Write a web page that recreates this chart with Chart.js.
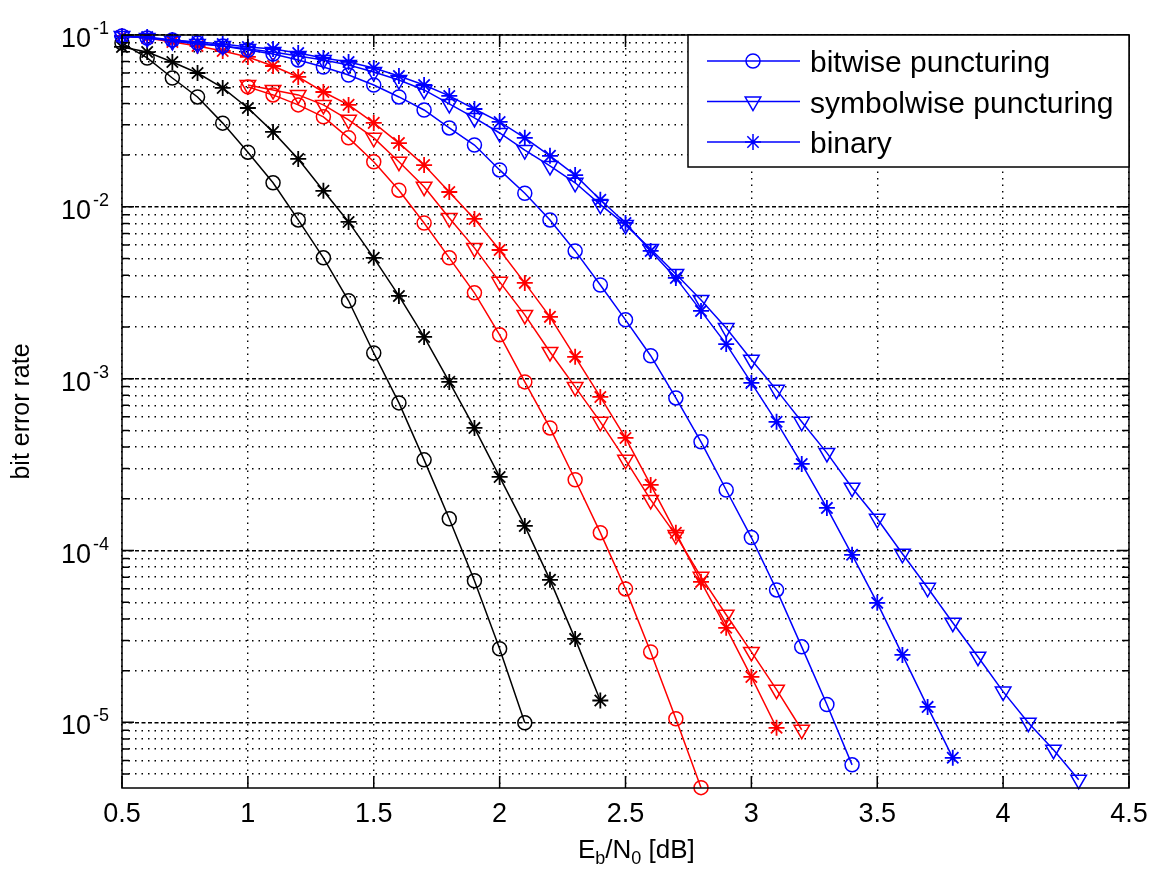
<!DOCTYPE html>
<html>
<head>
<meta charset="utf-8">
<script src="https://cdn.jsdelivr.net/npm/chart.js@4.4.1/dist/chart.umd.min.js"></script>
<style>
  html, body { margin: 0; padding: 0; background: #fff; }
  canvas { display: block; }
</style>
</head>
<body>
<canvas id="berChart" width="1155" height="873"></canvas>
<script>
// Eb/N0 grid in dB (every series starts somewhere on it)
const snrDb = [0.5, 0.6, 0.7, 0.8, 0.9, 1.0, 1.1, 1.2, 1.3, 1.4, 1.5, 1.6, 1.7, 1.8, 1.9,
  2.0, 2.1, 2.2, 2.3, 2.4, 2.5, 2.6, 2.7, 2.8, 2.9, 3.0, 3.1, 3.2, 3.3, 3.4, 3.5, 3.6,
  3.7, 3.8, 3.9, 4.0, 4.1, 4.2, 4.3];

// black curves, start at 0.5 dB
const blackCircle = [0.0898, 0.0735, 0.0562, 0.0436, 0.0307, 0.0208, 0.0138, 0.00839, 0.00505,
  0.00284, 0.00141, 7.23e-4, 3.37e-4, 1.53e-4, 6.67e-5, 2.68e-5, 9.95e-6];
const blackStar = [0.0852, 0.0796, 0.0697, 0.0601, 0.0492, 0.0376, 0.0273, 0.0190, 0.0124,
  0.00817, 0.00505, 0.00303, 0.00175, 9.58e-4, 5.17e-4, 2.68e-4, 1.39e-4, 6.75e-5, 3.06e-5, 1.34e-5];

// red curves (circle and triangle start at 1.0 dB, star at 0.5 dB)
const redCircle = [0.0499, 0.0448, 0.0392, 0.0334, 0.0252, 0.0183, 0.0125, 0.00805, 0.00505,
  0.00316, 0.00180, 9.58e-4, 5.17e-4, 2.58e-4, 1.27e-4, 5.98e-5, 2.57e-5, 1.05e-5, 4.17e-6];
const redTriangle = [0.0512, 0.0479, 0.0448, 0.0392, 0.0321, 0.0252, 0.0183, 0.0131, 0.00861,
  0.00577, 0.00366, 0.00235, 0.00143, 8.96e-4, 5.61e-4, 3.37e-4, 1.97e-4, 1.23e-4, 7.03e-5,
  4.23e-5, 2.57e-5, 1.55e-5, 9.06e-6];
const redStar = [0.0987, 0.0961, 0.0911, 0.0863, 0.0807, 0.0745, 0.0660, 0.0570, 0.0466, 0.0392,
  0.0308, 0.0235, 0.0175, 0.0122, 0.00851, 0.00561, 0.00361, 0.00229, 0.00134, 7.83e-4, 4.52e-4,
  2.41e-4, 1.27e-4, 6.57e-5, 3.55e-5, 1.84e-5, 9.30e-6];

// blue curves, start at 0.5 dB
const blueCircle = [0.0987, 0.0961, 0.0935, 0.0898, 0.0863, 0.0818, 0.0775, 0.0716, 0.0651, 0.0585,
  0.0512, 0.0436, 0.0366, 0.0288, 0.0229, 0.0164, 0.0120, 0.00839, 0.00554, 0.00351, 0.00220,
  0.00136, 7.73e-4, 4.29e-4, 2.25e-4, 1.19e-4, 5.90e-5, 2.75e-5, 1.27e-5, 5.66e-6];
const blueTriangle = [0.0987, 0.0961, 0.0923, 0.0886, 0.0863, 0.0829, 0.0796, 0.0754, 0.0716, 0.0669,
  0.0609, 0.0547, 0.0479, 0.0397, 0.0329, 0.0269, 0.0214, 0.0173, 0.0138, 0.0103, 0.00785, 0.00569,
  0.00407, 0.00287, 0.00197, 0.00129, 8.61e-4, 5.61e-4, 3.70e-4, 2.32e-4, 1.53e-4, 9.57e-5, 6.07e-5,
  3.80e-5, 2.41e-5, 1.51e-5, 9.95e-6, 6.93e-6, 4.64e-6];
const blueStar = [0.0980, 0.0974, 0.0935, 0.0911, 0.0886, 0.0852, 0.0829, 0.0786, 0.0735, 0.0697,
  0.0643, 0.0577, 0.0512, 0.0442, 0.0371, 0.0312, 0.0252, 0.0198, 0.0153, 0.0110, 0.00806, 0.00554,
  0.00386, 0.00248, 0.00159, 9.45e-4, 5.61e-4, 3.19e-4, 1.77e-4, 9.44e-5, 4.96e-5, 2.47e-5, 1.23e-5,
  6.22e-6];

const xTicks = [0.5, 1, 1.5, 2, 2.5, 3, 3.5, 4, 4.5];
const xTickLabels = ['0.5', '1', '1.5', '2', '2.5', '3', '3.5', '4', '4.5'];
const yDecades = [1e-1, 1e-2, 1e-3, 1e-4, 1e-5];
const yDecadeExponents = ['-1', '-2', '-3', '-4', '-5'];
const legendLabels = ['bitwise puncturing', 'symbolwise puncturing', 'binary'];

const yMin = 4.15e-6;
const yMax = 0.1;

const yMinorTicks = [];
yDecades.forEach(d => {
  for (let k = 2; k <= 9; k++) {
    const v = d * k / 10;
    if (v >= yMin) yMinorTicks.push(v);
  }
});

const isDecade = v => Math.abs(Math.log10(v) - Math.round(Math.log10(v))) < 1e-6;

const toPoints = function(values, firstX) {
  const start = snrDb.indexOf(firstX);
  return values.map((v, i) => ({ x: snrDb[start + i], y: v }));
};

const markerRadius = { circle: 7, triangle: 9, star: 8 };

const makeSet = function(label, values, firstX, color, style) {
  return {
    label: label,
    data: toPoints(values, firstX),
    showLine: true,
    borderColor: color,
    borderWidth: 1.5,
    pointStyle: style,
    pointRadius: markerRadius[style],
    pointRotation: style === 'triangle' ? 180 : 0,
    pointBorderColor: color,
    pointBackgroundColor: 'rgba(0,0,0,0)',
    pointBorderWidth: style === 'star' ? 1.8 : 1.5,
    tension: 0,
    clip: false
  };
};

const font = '"Liberation Sans", Arial, sans-serif';

const drawMarker = function(ctx, style, x, y) {
  const r = markerRadius[style];
  ctx.beginPath();
  if (style === 'circle') {
    ctx.arc(x, y, r, 0, Math.PI * 2);
  } else if (style === 'triangle') {
    ctx.moveTo(x, y + r);
    ctx.lineTo(x - r * Math.sin(Math.PI / 3), y - r / 2);
    ctx.lineTo(x + r * Math.sin(Math.PI / 3), y - r / 2);
    ctx.closePath();
  } else {
    for (let k = 0; k < 4; k++) {
      const ang = k * Math.PI / 4;
      ctx.moveTo(x - r * Math.cos(ang), y - r * Math.sin(ang));
      ctx.lineTo(x + r * Math.cos(ang), y + r * Math.sin(ang));
    }
  }
  ctx.stroke();
};

const matlabFrame = {
  id: 'matlabFrame',
  afterDatasetsDraw(chart) {
    const { ctx, chartArea: a, scales: { x, y } } = chart;
    ctx.save();
    ctx.strokeStyle = '#000';
    ctx.lineWidth = 1.5;
    ctx.setLineDash([]);

    // inward ticks on all four sides
    ctx.beginPath();
    xTicks.forEach(v => {
      const px = x.getPixelForValue(v);
      ctx.moveTo(px, a.bottom); ctx.lineTo(px, a.bottom - 12);
      ctx.moveTo(px, a.top); ctx.lineTo(px, a.top + 12);
    });
    yDecades.forEach(v => {
      const py = y.getPixelForValue(v);
      ctx.moveTo(a.left, py); ctx.lineTo(a.left + 12, py);
      ctx.moveTo(a.right, py); ctx.lineTo(a.right - 12, py);
    });
    yMinorTicks.forEach(v => {
      const py = y.getPixelForValue(v);
      ctx.moveTo(a.left, py); ctx.lineTo(a.left + 7, py);
      ctx.moveTo(a.right, py); ctx.lineTo(a.right - 7, py);
    });
    ctx.stroke();
    ctx.strokeRect(a.left, a.top, a.right - a.left, a.bottom - a.top);

    // tick labels
    ctx.fillStyle = '#000';
    ctx.font = '27px ' + font;
    ctx.textAlign = 'center';
    ctx.textBaseline = 'alphabetic';
    xTicks.forEach((v, i) => ctx.fillText(xTickLabels[i], x.getPixelForValue(v), a.bottom + 34));
    yDecades.forEach((v, i) => {
      const py = y.getPixelForValue(v);
      ctx.font = '27px ' + font;
      ctx.textAlign = 'right';
      ctx.fillText('10', 91, py + 12);
      ctx.font = '18px ' + font;
      ctx.textAlign = 'left';
      ctx.fillText(yDecadeExponents[i], 93, py - 1);
    });

    // axis titles
    ctx.save();
    ctx.translate(22, (a.top + a.bottom) / 2);
    ctx.rotate(-Math.PI / 2);
    ctx.font = '25px ' + font;
    ctx.textAlign = 'center';
    ctx.textBaseline = 'middle';
    ctx.fillText('bit error rate', 0, 0);
    ctx.restore();

    const parts = [['E', 26, 0], ['b', 18, 6], ['/N', 26, 0], ['0', 18, 6], [' [dB]', 26, 0]];
    let tx = 578;
    ctx.textAlign = 'left';
    parts.forEach(p => {
      ctx.font = p[1] + 'px ' + font;
      ctx.fillText(p[0], tx, 858 + p[2]);
      tx += ctx.measureText(p[0]).width;
    });

    // legend
    const lx = 688, ly = a.top, lr = a.right, lb = a.top + 132;
    ctx.fillStyle = '#fff';
    ctx.fillRect(lx, ly, lr - lx, lb - ly);
    ctx.strokeStyle = '#000';
    ctx.lineWidth = 1.5;
    ctx.strokeRect(lx, ly, lr - lx, lb - ly);
    const styles = ['circle', 'triangle', 'star'];
    legendLabels.forEach((label, i) => {
      const ry = ly + 26 + i * 40.5;
      ctx.strokeStyle = '#0000ff';
      ctx.lineWidth = 1.5;
      ctx.beginPath();
      ctx.moveTo(707, ry); ctx.lineTo(800, ry);
      ctx.stroke();
      drawMarker(ctx, styles[i], 753, ry);
      ctx.fillStyle = '#000';
      ctx.font = '30px ' + font;
      ctx.textAlign = 'left';
      ctx.fillText(label, 810, ry + 11);
    });
    ctx.restore();
  }
};

const datasets = [
  makeSet('bitwise puncturing', blueCircle, 0.5, '#0000ff', 'circle'),
  makeSet('symbolwise puncturing', blueTriangle, 0.5, '#0000ff', 'triangle'),
  makeSet('binary', blueStar, 0.5, '#0000ff', 'star'),
  makeSet('red circle', redCircle, 1.0, '#ff0000', 'circle'),
  makeSet('red triangle', redTriangle, 1.0, '#ff0000', 'triangle'),
  makeSet('red star', redStar, 0.5, '#ff0000', 'star'),
  makeSet('black circle', blackCircle, 0.5, '#000000', 'circle'),
  makeSet('black star', blackStar, 0.5, '#000000', 'star')
];

const config = {
  type: 'scatter',
  data: { datasets: datasets },
  options: {
    responsive: false,
    animation: false,
    events: [],
    devicePixelRatio: 1,
    layout: { padding: { left: 122, top: 35, right: 26, bottom: 85 } },
    plugins: { legend: { display: false }, tooltip: { enabled: false } },
    scales: {
      x: {
        type: 'linear',
        min: 0.5,
        max: 4.5,
        afterBuildTicks: s => { s.ticks = xTicks.map(v => ({ value: v })); },
        ticks: { display: false, autoSkip: false },
        grid: { color: '#000', lineWidth: 1.4, drawTicks: false },
        border: { display: false, dash: [1.5, 5] }
      },
      y: {
        type: 'logarithmic',
        min: yMin,
        max: yMax,
        afterBuildTicks: s => { s.ticks = yDecades.concat(yMinorTicks).map(v => ({ value: v })); },
        ticks: { display: false, autoSkip: false },
        grid: { color: '#000', lineWidth: 1.4, drawTicks: false },
        border: {
          display: false,
          dash: ctx => (ctx.tick && isDecade(ctx.tick.value)) ? [4, 2.5] : [1.5, 5]
        }
      }
    }
  },
  plugins: [matlabFrame]
};

const myChart = new Chart(document.getElementById('berChart'), config);
</script>
</body>
</html>
